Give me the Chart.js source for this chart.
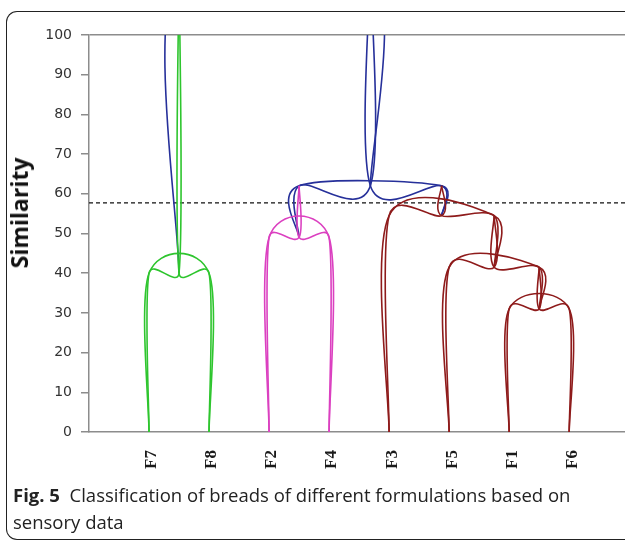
<!DOCTYPE html>
<html>
<head>
<meta charset="utf-8">
<script src="https://cdn.jsdelivr.net/npm/chart.js@4.4.1/dist/chart.umd.min.js"></script>
<style>
  html, body { margin: 0; padding: 0; background: #fff; }
  #wrap { position: relative; width: 625px; height: 541px; overflow: hidden; }
  #frame { position: absolute; left: 6px; top: 11px; width: 660px; height: 527px;
           border: 1px solid #222; border-right: none; border-radius: 11px 0 0 11px; }
  #chart { position: absolute; left: 0; top: 0; }
  #ytitle { position: absolute; left: 19px; top: 213px; transform: translate(-50%, -50%) rotate(-90deg);
            font: bold 23px 'Open Sans'; white-space: nowrap; color: #111; }
  #caption { position: absolute; left: 13px; top: 481px; font: 18.5px 'Open Sans'; line-height: 27px;
             color: #222; white-space: nowrap; }
</style>
</head>
<body>
<div id="wrap">
  <div id="frame"></div>
  <canvas id="chart" width="625" height="541"></canvas>
  <div id="ytitle">Similarity</div>
  <div id="caption"><b>Fig. 5</b>&nbsp; Classification of breads of different formulations based on<br>sensory data</div>
</div>
<script>
// Dendrogram, leaves in plot order
const leaves = ['F7', 'F8', 'F2', 'F4', 'F3', 'F5', 'F1', 'F6'];

// Joins from bottom to top: the two members and the similarity level of the join
const joinA     = ['F7', 'F2', 'F1', 'F5',   'F3',     'F2F4',     'F7F8'];
const joinB     = ['F8', 'F4', 'F6', 'F1F6', 'F5F1F6', 'F3F5F1F6', 'F2F4F3F5F1F6'];
const joinLevel = [40,   49,   31,   41.5,   54.5,     62,         118];
const joinColor = ['#2ec52e', '#db40c0', '#8e1b1b', '#8e1b1b', '#8e1b1b', '#26309a', '#26309a'];

const cutLevel = 57.7;
const X_MAX = 8.93;

// ─── Build line series from the joins ──────────────────────────────────────

const pos = {}, level = {}, parentLevel = {};
leaves.forEach((name, i) => { pos[name] = i + 1; level[name] = 0; });
joinA.forEach((a, k) => {
    const b = joinB[k], name = a + b;
    pos[name] = (pos[a] + pos[b]) / 2;
    level[name] = joinLevel[k];
    parentLevel[a] = joinLevel[k];
    parentLevel[b] = joinLevel[k];
});

function line(data, color) {
    return { data, borderColor: color, borderWidth: 1.6, tension: 0.4, pointRadius: 0, fill: false };
}

const datasets = [];
joinA.forEach((a, k) => {
    const b = joinB[k], name = a + b, c = joinColor[k];
    const h = joinLevel[k], mid = pos[name], up = parentLevel[name];
    // outer arch
    datasets.push(line([
        { x: pos[a], y: level[a] }, { x: pos[a], y: h },
        { x: pos[b], y: h }, { x: pos[b], y: level[b] }
    ], c));
    if (up === undefined) return;
    // inner arms: each member up, over to the joint, and on up to the parent
    [a, b].forEach(side => {
        datasets.push(line([
            { x: pos[side], y: level[side] }, { x: pos[side], y: h },
            { x: mid, y: h }, { x: mid, y: up }
        ], c));
    });
});

datasets.push({
    data: [{ x: 0, y: cutLevel }, { x: X_MAX, y: cutLevel }],
    borderColor: '#111', borderWidth: 1.2, borderDash: [4, 3], pointRadius: 0, tension: 0
});

// Excel-style smoothing: Catmull-Rom control points at 1/6 of the neighbour span,
// each held to half of the segment it bends
const excelSmooth = {
    id: 'excelSmooth',
    beforeDatasetDraw(chart, args) {
        const meta = args.meta, ln = meta.dataset;
        if (!ln || !ln.options.tension) return;
        ln.updateControlPoints(chart.chartArea, 'x');
        const pts = meta.data;
        const clamp = (dx, dy, seg) => {
            const len = Math.hypot(dx, dy), lim = seg * 0.5;
            return len > lim && len > 0 ? [dx * lim / len, dy * lim / len] : [dx, dy];
        };
        pts.forEach((p, i) => {
            const prev = pts[i - 1] || p, next = pts[i + 1] || p;
            const dx = (next.x - prev.x) / 6, dy = (next.y - prev.y) / 6;
            const [ax, ay] = clamp(dx, dy, Math.hypot(p.x - prev.x, p.y - prev.y));
            const [bx, by] = clamp(dx, dy, Math.hypot(next.x - p.x, next.y - p.y));
            p.cp1x = p.x - ax; p.cp1y = p.y - ay;
            p.cp2x = p.x + bx; p.cp2y = p.y + by;
        });
        ln._path = undefined;
    }
};

// ─── Chart ─────────────────────────────────────────────────────────────────

new Chart(document.getElementById('chart'), {
    type: 'line',
    data: { datasets },
    plugins: [excelSmooth],
    options: {
        responsive: false,
        animation: false,
        devicePixelRatio: 1,
        layout: { padding: { top: 35, left: 0, right: 0, bottom: 0 } },
        plugins: { legend: { display: false }, tooltip: { enabled: false } },
        scales: {
            x: {
                type: 'linear', min: 0, max: X_MAX,
                afterBuildTicks: s => { s.ticks = leaves.map((_, i) => ({ value: i + 1 })); },
                afterFit: s => { s.height = 109; },
                grid: { display: false, drawTicks: false },
                border: { color: '#8c8c8c', width: 1.5 },
                ticks: {
                    callback: v => leaves[v - 1] || '',
                    minRotation: 90, maxRotation: 90, autoSkip: false,
                    padding: 18, labelOffset: 3,
                    color: '#1a1a1a', font: { family: 'Liberation Serif', weight: 'bold', size: 17 }
                }
            },
            y: {
                min: 0, max: 100,
                afterFit: s => { s.width = 89; },
                grid: {
                    drawOnChartArea: true,
                    color: ctx => ctx.tick && ctx.tick.value === 100 ? '#8c8c8c' : 'rgba(0,0,0,0)',
                    tickColor: '#8c8c8c', tickLength: 8, lineWidth: 1.5
                },
                border: { color: '#8c8c8c', width: 1.5 },
                ticks: {
                    stepSize: 10, padding: 9, color: '#333',
                    font: { family: 'DejaVu Sans', size: 14 }
                }
            }
        }
    }
});
</script>
</body>
</html>
